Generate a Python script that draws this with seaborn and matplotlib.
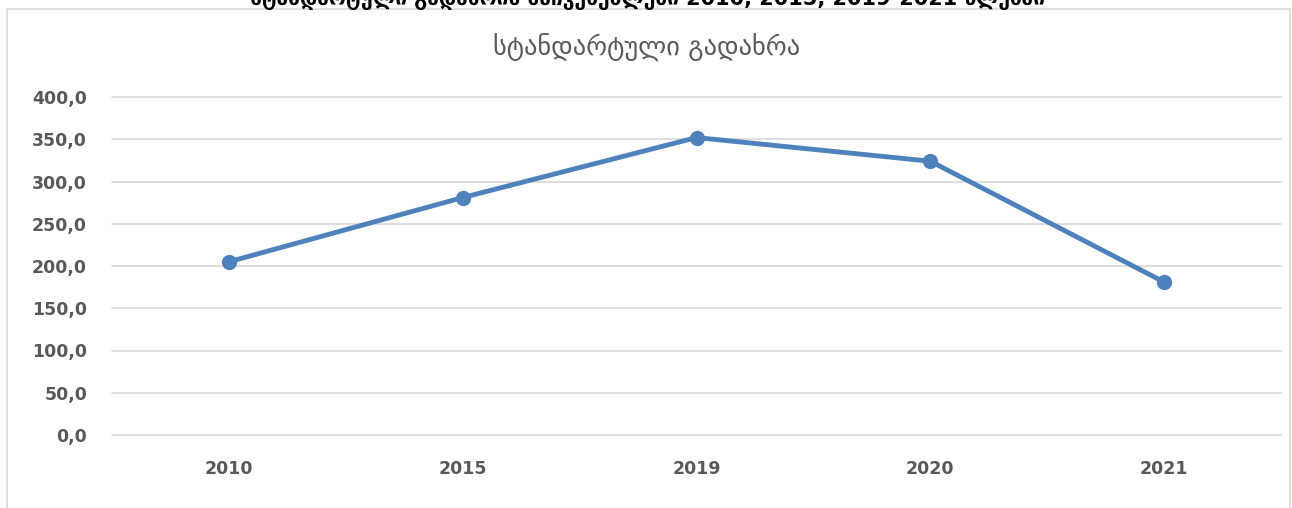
import matplotlib
matplotlib.use("Agg")
import matplotlib.pyplot as plt
import matplotlib.patches as patches
import matplotlib.ticker as mticker
import pandas as pd
import seaborn as sns

years = ["2010", "2015", "2019", "2020", "2021"]
std_dev = [205.0, 281.0, 352.0, 324.0, 181.0]
y_ticks = [0, 50, 100, 150, 200, 250, 300, 350, 400]

title = "სტანდარტული გადახრა"
caption = "სტანდარტული გადახრის მაჩვენებლები 2010, 2015, 2019-2021 წლებში"

sns.set_theme(style="white")
plt.rcParams["font.family"] = ["DejaVu Sans"]

W, H = 1292, 508
fig = plt.figure(figsize=(W / 100, H / 100), dpi=100)
ax = fig.add_axes([112 / W, (H - 435) / H, (1281 - 112) / W, 338 / H])

df = pd.DataFrame({"year": years, "value": std_dev})
sns.lineplot(data=df, x="year", y="value", ax=ax, color="#4F81BD",
             linewidth=3.5, marker="o", markersize=11, markeredgewidth=0)

ax.set_xlim(-0.5, len(years) - 0.5)
ax.set_ylim(0, 400)
ax.set_yticks(y_ticks)
ax.yaxis.set_major_formatter(mticker.FuncFormatter(lambda v, p: f"{v:.1f}".replace(".", ",")))
ax.grid(axis="y", color="#D9D9D9", linewidth=1.2)
for gl in ax.get_ygridlines():
    gl.set_clip_on(False)
ax.set_axisbelow(True)
for s in ax.spines.values():
    s.set_visible(False)
ax.tick_params(axis="both", length=0, labelsize=12.5, labelcolor="#595959")
ax.tick_params(axis="y", pad=18)
ax.tick_params(axis="x", pad=18)
for lbl in ax.get_xticklabels() + ax.get_yticklabels():
    lbl.set_fontweight("bold")
ax.set_xlabel("")
ax.set_ylabel("")

# chart frame
fig.patches.append(patches.Rectangle((7 / W, -0.05), (1290 - 7) / W, 1.05 - 9 / H,
                                     transform=fig.transFigure, fill=False,
                                     edgecolor="#D9D9D9", linewidth=1.2))

fig.text(647 / W, 1 - 48 / H, title, ha="center", va="center",
         fontsize=19, color="#595959")
fig.text(648 / W, 1 - 5 / H, caption, ha="center", va="baseline",
         fontsize=15, fontweight="bold", color="black")

fig.savefig("out.png", dpi=100)
